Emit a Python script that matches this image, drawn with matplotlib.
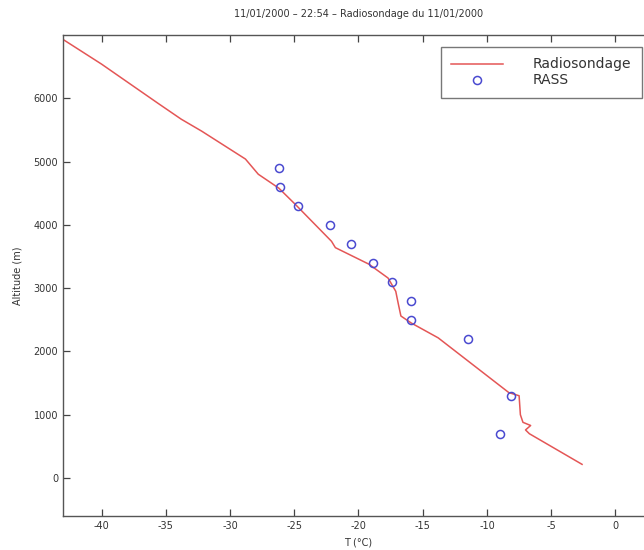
import matplotlib
matplotlib.use("Agg")
import matplotlib.pyplot as plt

plt.rcParams["axes.unicode_minus"] = False

# Radiosonde profile (temperature in °C, altitude in m)
sonde_temp = [-43.0, -40.0, -35.6, -33.8, -32.2, -28.8, -27.8, -26.2, -24.9, -22.1,
              -21.8, -19.2, -17.7, -17.1, -16.9, -16.7, -15.9, -13.8, -8.3, -7.5,
              -7.4, -7.2, -6.6, -7.0, -6.7, -2.6]
sonde_alt = [6930, 6540, 5920, 5670, 5480, 5040, 4800, 4580, 4320, 3740,
             3640, 3380, 3160, 2950, 2750, 2560, 2450, 2215, 1350, 1300,
             1000, 880, 830, 760, 700, 216]

# RASS measurements
rass_temp = [-26.2, -26.1, -24.7, -22.2, -20.6, -18.9, -17.4, -15.9, -15.9, -11.5, -8.1, -9.0]
rass_alt = [4900, 4600, 4300, 4000, 3700, 3400, 3100, 2800, 2500, 2200, 1300, 700]

xticks = [-40, -35, -30, -25, -20, -15, -10, -5, 0]
yticks = [0, 1000, 2000, 3000, 4000, 5000, 6000]

title = "11/01/2000 \u2013 22:54 \u2013 Radiosondage du 11/01/2000"

fig = plt.figure(figsize=(6.44, 5.5), dpi=100)
ax = fig.add_axes([63/644, 34/550, 591/644, 481/550])

ax.plot(sonde_temp, sonde_alt, color="#e45656", lw=1.1, label="Radiosondage")
ax.plot(rass_temp, rass_alt, linestyle="none", marker="o", markersize=5.8,
        markerfacecolor="none", markeredgecolor="#4a4ad0", markeredgewidth=1.1,
        label="RASS")

ax.set_xlim(-43, 3)
ax.set_ylim(-600, 7000)
ax.set_xticks(xticks)
ax.set_yticks(yticks)
ax.set_xticklabels([str(t) for t in xticks])
ax.set_yticklabels([str(t) for t in yticks])
ax.tick_params(direction="in", length=5, width=0.9, colors="#444444",
               labelsize=7, top=True, right=True, labelcolor="#333333")
for s in ax.spines.values():
    s.set_color("#555555")
    s.set_linewidth(1.0)

ax.set_xlabel("T (\u00b0C)", fontsize=7, color="#333333", labelpad=5)
ax.set_ylabel("Altitude (m)", fontsize=7, color="#333333", labelpad=8)
ax.set_title(title, fontsize=7, color="#333333", pad=13)

leg = ax.legend(loc="upper right", bbox_to_anchor=(642/644, 1 - 47/550),
                bbox_transform=fig.transFigure, fontsize=10, frameon=True,
                fancybox=False, edgecolor="#555555", handlelength=3.7,
                handletextpad=2.2, borderpad=0.75, labelspacing=0.15,
                borderaxespad=0)
leg.get_frame().set_linewidth(1.0)
for t in leg.get_texts():
    t.set_color("#333333")

fig.savefig("out.png", dpi=100)
